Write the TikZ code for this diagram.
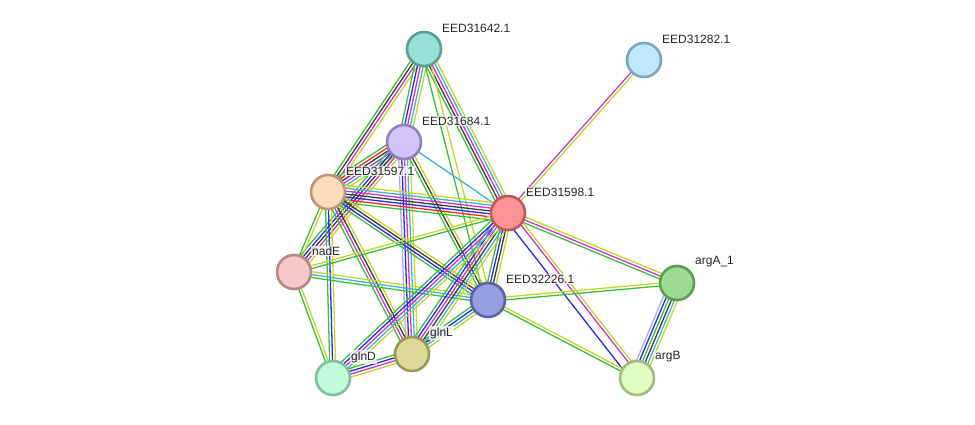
\documentclass[tikz,border=0pt]{standalone}
\usepackage{fontspec}
\setmainfont{Liberation Sans}
\usetikzlibrary{calc}
\pgfdeclarelayer{edges}
\pgfsetlayers{edges,main}

% evidence-channel colours
\definecolor{eGrn}{RGB}{60,190,60}
\definecolor{eBlk}{RGB}{60,60,60}
\definecolor{eMag}{RGB}{210,50,210}
\definecolor{eCya}{RGB}{60,180,220}
\definecolor{eYel}{RGB}{195,215,40}
\definecolor{eBlu}{RGB}{40,40,240}
\definecolor{eRed}{RGB}{245,40,40}
\definecolor{eLav}{RGB}{170,170,250}

% protein colours (fill / rim)
\definecolor{fA}{RGB}{152,224,214}\definecolor{bA}{RGB}{90,158,148}
\definecolor{fH}{RGB}{192,232,252}\definecolor{bH}{RGB}{123,164,192}
\definecolor{fP}{RGB}{210,196,252}\definecolor{bP}{RGB}{144,128,192}
\definecolor{fQ}{RGB}{253,220,188}\definecolor{bQ}{RGB}{184,152,122}
\definecolor{fS}{RGB}{252,148,148}\definecolor{bS}{RGB}{192,88,88}
\definecolor{fN}{RGB}{248,200,200}\definecolor{bN}{RGB}{184,136,136}
\definecolor{fT}{RGB}{150,160,224}\definecolor{bT}{RGB}{88,100,168}
\definecolor{fAA}{RGB}{158,220,148}\definecolor{bAA}{RGB}{92,156,84}
\definecolor{fL}{RGB}{220,216,152}\definecolor{bL}{RGB}{156,152,88}
\definecolor{fD}{RGB}{192,252,220}\definecolor{bD}{RGB}{128,192,156}
\definecolor{fAB}{RGB}{224,252,192}\definecolor{bAB}{RGB}{160,188,128}

\tikzset{
  protein/.style={circle, minimum size=34pt, inner sep=0pt, line width=2.6pt},
  plabel/.style={anchor=west, font=\fontsize{12}{12}\selectfont, text=black!85,
    fill=white, fill opacity=0.75, text opacity=1, inner sep=1pt},
  evline/.style={line width=1.3pt},
  gap/.style={draw=none},
}

% parallel evidence lines between two proteins: #3 = number of slots
\newcommand\evedge[4]{%
  \foreach \c [count=\i] in {#4} {%
    \pgfmathsetmacro\off{(\i-1-(#3-1)/2)*2.9}%
    \draw[evline, \c] ($(#1)!\off pt!90:(#2)$) -- ($(#2)!\off pt!-90:(#1)$);
  }%
}

\begin{document}
\begin{tikzpicture}[x=1pt, y=-1pt]
\useasboundingbox (0,0) rectangle (975,424);

% proteins
\node[protein, draw=bA, fill=fA] (A) at (424,49) {};
\node[protein, draw=bH, fill=fH] (H) at (644,60) {};
\node[protein, draw=bP, fill=fP] (P) at (404,142) {};
\node[protein, draw=bQ, fill=fQ] (Q) at (328,192) {};
\node[protein, draw=bS, fill=fS] (S) at (508,213) {};
\node[protein, draw=bN, fill=fN] (N) at (294,272) {};
\node[protein, draw=bT, fill=fT] (T) at (488,300) {};
\node[protein, draw=bAA, fill=fAA] (AA) at (677,283) {};
\node[protein, draw=bL, fill=fL] (L) at (412,354) {};
\node[protein, draw=bD, fill=fD] (D) at (333,378) {};
\node[protein, draw=bAB, fill=fAB] (AB) at (637,378) {};

% labels
\node[plabel] (lA) at ($(A)+(17,-21)$) {EED31642.1};
\node[plabel] (lH) at ($(H)+(17,-21)$) {EED31282.1};
\node[plabel] (lP) at ($(P)+(17,-21)$) {EED31684.1};
\node[plabel] (lQ) at ($(Q)+(17,-21)$) {EED31597.1};
\node[plabel] (lS) at ($(S)+(17,-21)$) {EED31598.1};
\node[plabel] (lN) at ($(N)+(17,-21)$) {nadE};
\node[plabel] (lT) at ($(T)+(17,-21)$) {EED32226.1};
\node[plabel] (lAA) at ($(AA)+(17,-21)$) {argA\_1};
\node[plabel] (lL) at ($(L)+(17,-21)$) {glnL};
\node[plabel] (lD) at ($(D)+(17,-21)$) {glnD};
\node[plabel] (lAB) at ($(AB)+(17,-21)$) {argB};

% interactions
\begin{pgfonlayer}{edges}
\evedge{A}{Q}{4}{eGrn,eBlk,eMag,eYel}
\evedge{A}{P}{5}{eGrn,eBlu,eMag,eCya,eYel}
\evedge{A}{S}{5}{eGrn,eBlk,eMag,eCya,eYel}
\evedge{A}{T}{3}{eGrn,gap,eYel}
\evedge{P}{Q}{6}{eGrn,eRed,eBlk,eMag,eCya,eYel}
\evedge{P}{S}{1}{eCya}
\evedge{P}{L}{5}{eLav,eBlu,eMag,eCya,eYel}
\evedge{P}{T}{3}{eGrn,eBlk,eYel}
\evedge{P}{N}{5}{eGrn,eBlu,eBlk,eMag,eYel}
\evedge{Q}{S}{7}{eGrn,eRed,eBlu,eBlk,eMag,eCya,eYel}
\evedge{Q}{N}{2}{eGrn,eYel}
\evedge{Q}{D}{3}{eGrn,eBlu,eYel}
\evedge{Q}{L}{4}{eGrn,eMag,eBlk,eYel}
\evedge{Q}{T}{4}{eGrn,eBlu,eBlk,eYel}
\evedge{N}{S}{2}{eGrn,eYel}
\evedge{N}{T}{3}{eGrn,eCya,eYel}
\evedge{N}{D}{2}{eGrn,eYel}
\evedge{S}{T}{4}{eGrn,eBlu,eBlk,eYel}
\evedge{S}{L}{6}{eGrn,eBlu,eMag,eBlk,eCya,eYel}
\evedge{S}{D}{5}{eGrn,eBlu,eMag,eCya,eYel}
\evedge{S}{H}{2}{eYel,eMag}
\evedge{S}{AA}{3}{eGrn,eMag,eYel}
\evedge{S}{AB}{5}{eBlu,gap,gap,eMag,eYel}
\evedge{T}{AA}{2}{eGrn,eYel}
\evedge{T}{AB}{2}{eGrn,eYel}
\evedge{T}{L}{4}{eGrn,eBlu,eCya,eYel}
\evedge{L}{D}{4}{eGrn,eBlu,eMag,eYel}
\evedge{AA}{AB}{6}{eLav,eBlu,eGrn,eBlk,eCya,eYel}
\end{pgfonlayer}
\end{tikzpicture}
\end{document}
